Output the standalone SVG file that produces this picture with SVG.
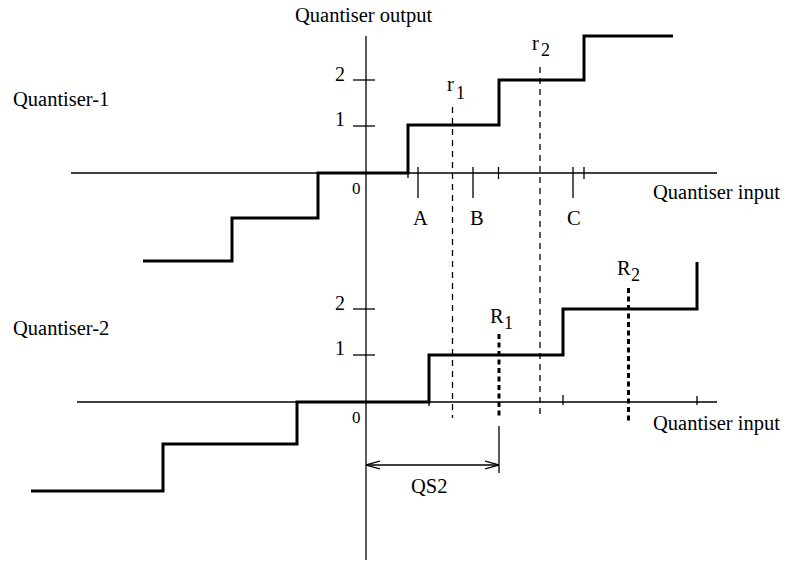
<svg xmlns="http://www.w3.org/2000/svg" width="786" height="561" viewBox="0 0 786 561">
<defs>
<style>
text{font-family:"Liberation Serif","Times New Roman",serif;fill:#000}
.lbl{font-size:20.5px}
.num{font-size:20px}
.zero{font-size:17px}
.sub{font-size:18px}
.thin{stroke:#000;stroke-width:1.3;fill:none}
.thick{stroke:#000;stroke-width:3;fill:none}
.dash{stroke:#000;stroke-width:1.3;fill:none;stroke-dasharray:6 5}
.tdash{stroke:#000;stroke-width:3;fill:none;stroke-dasharray:5 3.5}
</style>
<marker id="ah" viewBox="0 0 14 10" refX="14" refY="5" markerWidth="14" markerHeight="10" markerUnits="userSpaceOnUse" orient="auto-start-reverse">
<path d="M0,1 L14,5 L0,9" fill="none" stroke="#000" stroke-width="1.3"/>
</marker>
</defs>
<rect width="786" height="561" fill="#fff"/>

<g id="axes">
<line class="thin" x1="366" y1="36" x2="366" y2="560"/>
<line class="thin" x1="71" y1="173" x2="717" y2="173"/>
<line class="thin" x1="77" y1="402" x2="717" y2="402"/>
<line class="thin" x1="353" y1="80" x2="375" y2="80"/>
<line class="thin" x1="353" y1="126" x2="375" y2="126"/>
<line class="thin" x1="353" y1="309" x2="375" y2="309"/>
<line class="thin" x1="353" y1="355" x2="375" y2="355"/>
<text class="lbl" x="295" y="22">Quantiser output</text>
<text class="num" x="335" y="80.5">2</text>
<text class="num" x="335" y="126">1</text>
<text class="zero" x="352" y="194">0</text>
<text class="num" x="335" y="309.5">2</text>
<text class="num" x="335" y="355">1</text>
<text class="zero" x="352" y="423">0</text>
</g>

<g id="quantiser1">
<text class="lbl" x="13" y="106">Quantiser-1</text>
<path class="thick" d="M143,261 H232 V218 H318 V173 H408 V125 H499 V80 H584 V36 H673"/>
<line class="thin" x1="408" y1="173" x2="408" y2="178"/>
<line class="thin" x1="418" y1="167" x2="418" y2="198"/>
<line class="thin" x1="473" y1="167" x2="473" y2="198"/>
<line class="thin" x1="498.5" y1="167" x2="498.5" y2="179"/>
<line class="thin" x1="573" y1="167" x2="573" y2="198"/>
<line class="thin" x1="584" y1="167" x2="584" y2="179"/>
<text class="lbl" x="413" y="225">A</text>
<text class="lbl" x="470" y="225">B</text>
<text class="lbl" x="567" y="225">C</text>
<text class="lbl" x="653" y="199">Quantiser input</text>
</g>

<g id="r1">
<line class="dash" x1="452.5" y1="107" x2="452.5" y2="418"/>
<text class="lbl" x="447" y="91">r</text>
<text class="sub" x="456" y="98.5">1</text>
</g>
<g id="r2">
<line class="dash" x1="540" y1="67" x2="540" y2="417"/>
<text class="lbl" x="532" y="50">r</text>
<text class="sub" x="541" y="55.5">2</text>
</g>

<g id="quantiser2">
<text class="lbl" x="13" y="335">Quantiser-2</text>
<path class="thick" d="M31,491 H163 V444 H297 V402 H429 V355 H563 V309 H697 V262"/>
<line class="thin" x1="429" y1="402" x2="429" y2="406"/>
<line class="thin" x1="563" y1="395" x2="563" y2="405"/>
<line class="thin" x1="697" y1="396" x2="697" y2="405"/>
<text class="lbl" x="653" y="430">Quantiser input</text>
</g>

<g id="R1">
<line class="tdash" x1="499" y1="334" x2="499" y2="417"/>
<text class="lbl" x="490" y="322.5">R</text>
<text class="sub" x="504" y="328.5">1</text>
</g>
<g id="R2">
<line class="tdash" x1="628.5" y1="288" x2="628.5" y2="423"/>
<text class="lbl" x="617" y="275">R</text>
<text class="sub" x="631" y="280.5">2</text>
</g>

<g id="connectors">
<line class="thin" x1="499" y1="426" x2="499" y2="473"/>
<line class="thin" x1="366" y1="465" x2="499" y2="465" marker-start="url(#ah)" marker-end="url(#ah)"/>
<text class="lbl" x="411" y="493">QS2</text>
</g>
</svg>
